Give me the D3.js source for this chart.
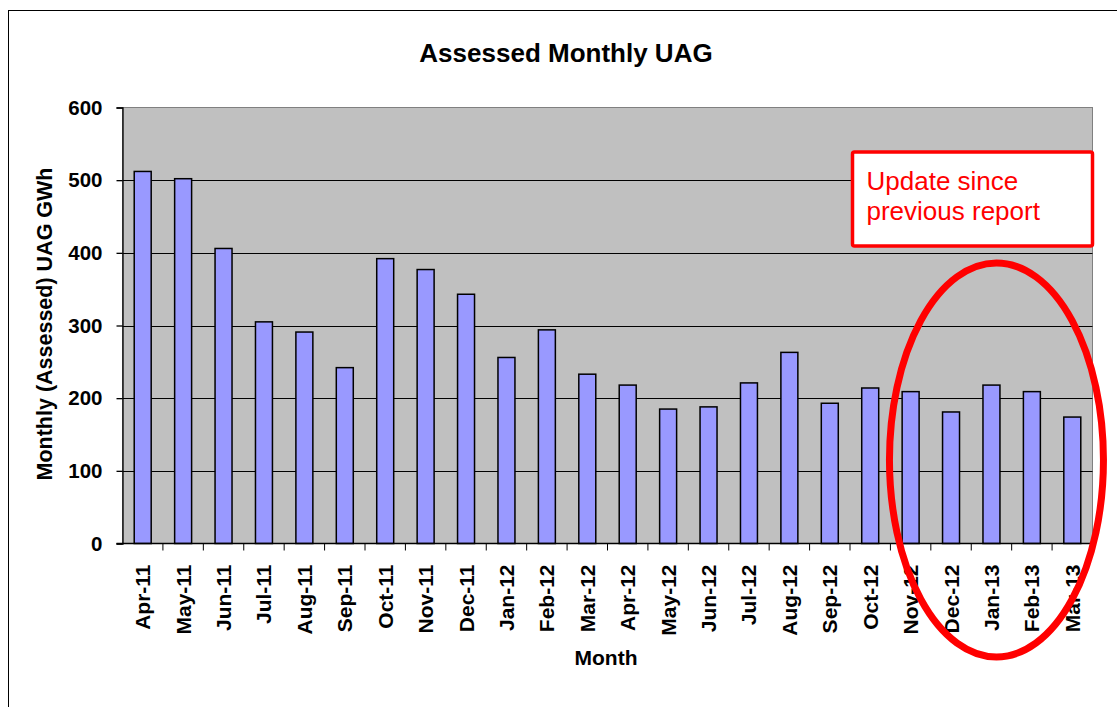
<!DOCTYPE html>
<html>
<head>
<meta charset="utf-8">
<script src="https://cdn.jsdelivr.net/npm/d3@7"></script>
<style>
  body { margin: 0; background: #fff; }
  svg { display: block; font-family: Arial, "Liberation Sans", sans-serif; }
</style>
</head>
<body>
<svg id="chart" width="1117" height="707"></svg>
<script>
var months = ["Apr-11", "May-11", "Jun-11", "Jul-11", "Aug-11", "Sep-11", "Oct-11", "Nov-11",
              "Dec-11", "Jan-12", "Feb-12", "Mar-12", "Apr-12", "May-12", "Jun-12", "Jul-12",
              "Aug-12", "Sep-12", "Oct-12", "Nov-12", "Dec-12", "Jan-13", "Feb-13", "Mar-13"];
var uagValues = [512, 502, 406, 305, 291, 242, 392, 377,
                 343, 256, 294, 233, 218, 185, 188, 221,
                 263, 193, 214, 209, 181, 218, 209, 174];
var yTicks = [0, 100, 200, 300, 400, 500, 600];
var updatedMonths = ["Nov-12", "Dec-12", "Jan-13", "Feb-13", "Mar-13"];

var svg = d3.select("#chart");
var margin = { left: 122.5, right: 1092.5, top: 107.5, bottom: 543.5 };

// outer chart frame (cut off at right/bottom like the original)
svg.append("rect")
    .attr("x", 8.5).attr("y", 10.5)
    .attr("width", 1200).attr("height", 800)
    .attr("fill", "none").attr("stroke", "#000").attr("stroke-width", 1);

var x = d3.scaleBand()
    .domain(months)
    .range([margin.left, margin.right])
    .paddingInner(0.58)
    .paddingOuter(0.29);

var xEdge = d3.scaleBand().domain(months).range([margin.left, margin.right]);

var y = d3.scaleLinear()
    .domain([0, 600])
    .range([margin.bottom, margin.top]);

// plot background
svg.append("rect")
    .attr("x", margin.left).attr("y", margin.top)
    .attr("width", margin.right - margin.left)
    .attr("height", margin.bottom - margin.top)
    .attr("fill", "#c0c0c0")
    .attr("stroke", "#808080").attr("stroke-width", 1);

// gridlines
svg.append("g")
    .selectAll("line")
    .data(yTicks.filter(function (d) { return d > 0 && d < 600; }))
    .enter()
    .append("line")
    .attr("x1", margin.left).attr("x2", margin.right)
    .attr("y1", function (d) { return Math.round(y(d)) + 0.5; })
    .attr("y2", function (d) { return Math.round(y(d)) + 0.5; })
    .attr("stroke", "#000").attr("stroke-width", 1);

// bars
svg.append("g")
    .selectAll("rect")
    .data(months)
    .enter()
    .append("rect")
    .attr("x", function (d) { return x(d); })
    .attr("width", x.bandwidth())
    .attr("y", function (d, i) { return y(uagValues[i]); })
    .attr("height", function (d, i) { return y(0) - y(uagValues[i]); })
    .attr("fill", "#9999ff")
    .attr("stroke", "#000").attr("stroke-width", 1.5);

// y axis
var yAxis = svg.append("g")
    .attr("transform", "translate(" + margin.left + ",0)")
    .call(d3.axisLeft(y).tickValues(yTicks).tickSize(6).tickPadding(14).tickFormat(d3.format("d")));
yAxis.select(".domain").attr("stroke", "#000").attr("stroke-width", 1.3);
yAxis.selectAll(".tick line").attr("stroke", "#000").attr("stroke-width", 1.3);
yAxis.selectAll("text")
    .attr("font-size", 20.5).attr("font-weight", "bold")
    .attr("font-family", "Arial, 'Liberation Sans', sans-serif")
    .attr("fill", "#000");

// x axis line and ticks between categories
var xAxisG = svg.append("g");
xAxisG.append("line")
    .attr("x1", margin.left - 6).attr("x2", margin.right)
    .attr("y1", margin.bottom).attr("y2", margin.bottom)
    .attr("stroke", "#000").attr("stroke-width", 1.3);
xAxisG.selectAll("line.tick")
    .data(months.slice(1))
    .enter()
    .append("line")
    .attr("class", "tick")
    .attr("x1", function (d) { return xEdge(d); })
    .attr("x2", function (d) { return xEdge(d); })
    .attr("y1", margin.bottom).attr("y2", margin.bottom + 7)
    .attr("stroke", "#000").attr("stroke-width", 1);

// x labels (rotated)
xAxisG.selectAll("text")
    .data(months)
    .enter()
    .append("text")
    .attr("transform", function (d) {
        return "translate(" + (x(d) + x.bandwidth() / 2 + 7.5) + "," + (margin.bottom + 21) + ") rotate(-90)";
    })
    .attr("text-anchor", "end")
    .attr("font-size", 21).attr("font-weight", "bold")
    .text(function (d) { return d; });

// titles
svg.append("text")
    .attr("x", 566).attr("y", 62)
    .attr("text-anchor", "middle")
    .attr("font-size", 26).attr("font-weight", "bold")
    .text("Assessed Monthly UAG");

svg.append("text")
    .attr("x", 606).attr("y", 665)
    .attr("text-anchor", "middle")
    .attr("font-size", 21).attr("font-weight", "bold")
    .text("Month");

svg.append("text")
    .attr("transform", "translate(52,324) rotate(-90)")
    .attr("text-anchor", "middle")
    .attr("font-size", 21.5).attr("font-weight", "bold")
    .text("Monthly (Assessed) UAG GWh");

// annotation box
var boxW = 240, boxX = margin.right - boxW, boxY = y(538) - 0.5;
svg.append("rect")
    .attr("x", boxX).attr("y", boxY)
    .attr("width", boxW).attr("height", 94)
    .attr("fill", "#fff")
    .attr("stroke", "#ff0000").attr("stroke-width", 3.5)
    .attr("rx", 2);
svg.append("text")
    .attr("x", boxX + 14).attr("y", boxY + 38)
    .attr("fill", "#ff0000").attr("font-size", 26)
    .text("Update since");
svg.append("text")
    .attr("x", boxX + 14).attr("y", boxY + 68)
    .attr("fill", "#ff0000").attr("font-size", 26)
    .text("previous report");

// ellipse around updated months
var cx = (x(updatedMonths[0]) + x(updatedMonths[updatedMonths.length - 1]) + x.bandwidth()) / 2;
svg.append("ellipse")
    .attr("cx", cx + 5).attr("cy", y(115))
    .attr("rx", 107).attr("ry", 197)
    .attr("fill", "none")
    .attr("stroke", "#ff0000").attr("stroke-width", 7);
</script>
</body>
</html>
